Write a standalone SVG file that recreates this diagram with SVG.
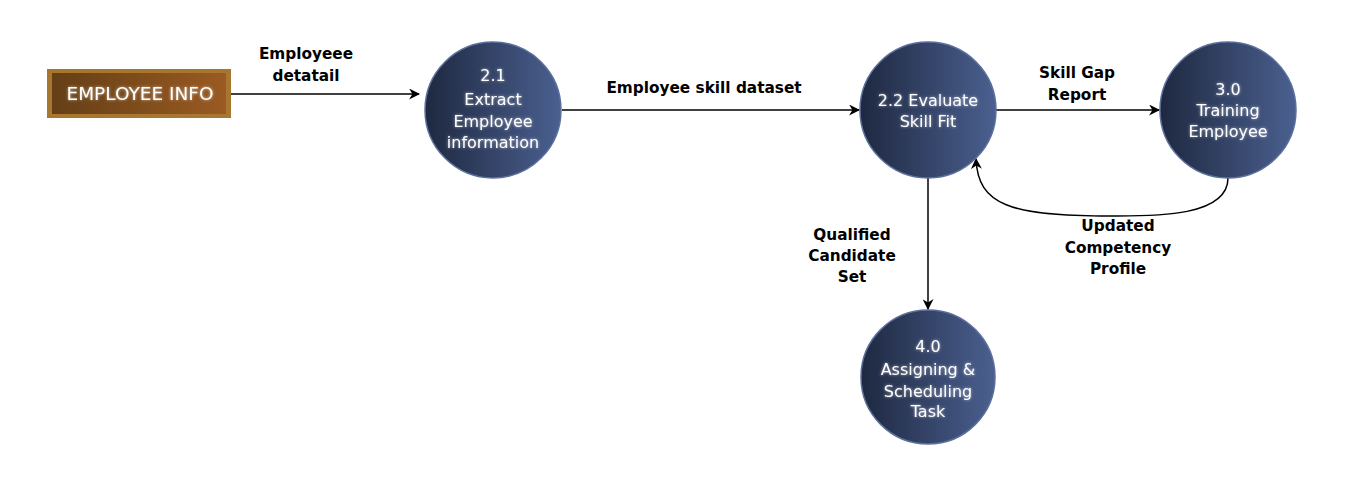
<svg xmlns="http://www.w3.org/2000/svg" width="1366" height="484" viewBox="0 0 1366 484">
<style>
.nt{font-family:"Comic Sans MS","DejaVu Sans",sans-serif;font-size:16px;fill:#ffffff;text-anchor:middle}
.lb{font-family:"Comic Sans MS","DejaVu Sans",sans-serif;font-size:15.3px;font-weight:bold;fill:#000000;text-anchor:middle}
.circ{fill:url(#cg);stroke:#5b6f9c;stroke-width:1.5}
.edge{fill:none;stroke:#000000;stroke-width:1.5;marker-end:url(#arr)}
</style>
<defs>
<linearGradient id="cg" x1="0" y1="0" x2="1" y2="0">
<stop offset="0" stop-color="#1e2840"/>
<stop offset="1" stop-color="#4b6090"/>
</linearGradient>
<linearGradient id="bg" x1="0" y1="0" x2="1" y2="0">
<stop offset="0" stop-color="#643f16"/>
<stop offset="1" stop-color="#9a5a22"/>
</linearGradient>
<filter id="glow" x="-20%" y="-20%" width="140%" height="140%">
<feGaussianBlur in="SourceAlpha" stdDeviation="1.5" result="b"/>
<feFlood flood-color="#ffffff" flood-opacity="0.6"/>
<feComposite in2="b" operator="in" result="g"/>
<feMerge><feMergeNode in="g"/><feMergeNode in="SourceGraphic"/></feMerge>
</filter>
<marker id="arr" viewBox="0 0 10 10" refX="9" refY="5" markerWidth="11" markerHeight="11" markerUnits="userSpaceOnUse" orient="auto">
<path d="M0,0 L10,5 L0,10 L3,5 z" fill="#000000"/>
</marker>
</defs>
<rect width="1366" height="484" fill="#ffffff"/>
<g id="connectors">
<path class="edge" d="M231,94 L419,94"/>
<path class="edge" d="M562,110 L859,110"/>
<path class="edge" d="M996,110 L1159,110"/>
<path class="edge" d="M928,178 L928,309"/>
<path class="edge" d="M1228,178 C1228,218 1150,216 1110,216 C1010,216 978,205 976,159"/>
</g>
<g id="labels">
<text class="lb" x="306" y="59">Employeee</text>
<text class="lb" x="306" y="81">detatail</text>
<text class="lb" x="704" y="93">Employee skill dataset</text>
<text class="lb" x="1077" y="78">Skill Gap</text>
<text class="lb" x="1077" y="100">Report</text>
<text class="lb" x="1118" y="231">Updated</text>
<text class="lb" x="1118" y="253">Competency</text>
<text class="lb" x="1118" y="274">Profile</text>
<text class="lb" x="852" y="240">Qualified</text>
<text class="lb" x="852" y="261">Candidate</text>
<text class="lb" x="852" y="282">Set</text>
</g>
<g id="employee-info">
<rect x="47" y="69" width="184" height="49" fill="#a7762f"/>
<rect x="52" y="73" width="174" height="41" fill="url(#bg)"/>
<text class="nt" x="140" y="100" style="font-size:18.5px" filter="url(#glow)">EMPLOYEE INFO</text>
</g>
<g id="p21">
<circle class="circ" cx="493" cy="110" r="68"/>
<text class="nt" x="493" y="81" filter="url(#glow)">2.1</text>
<text class="nt" x="493" y="105" filter="url(#glow)">Extract</text>
<text class="nt" x="493" y="127" filter="url(#glow)">Employee</text>
<text class="nt" x="493" y="148" filter="url(#glow)">information</text>
</g>
<g id="p22">
<circle class="circ" cx="928" cy="110" r="68"/>
<text class="nt" x="928" y="106" filter="url(#glow)">2.2 Evaluate</text>
<text class="nt" x="928" y="127" filter="url(#glow)">Skill Fit</text>
</g>
<g id="p30">
<circle class="circ" cx="1228" cy="110" r="68"/>
<text class="nt" x="1228" y="95" filter="url(#glow)">3.0</text>
<text class="nt" x="1228" y="116" filter="url(#glow)">Training</text>
<text class="nt" x="1228" y="137" filter="url(#glow)">Employee</text>
</g>
<g id="p40">
<circle class="circ" cx="928" cy="377" r="67"/>
<text class="nt" x="928" y="352" filter="url(#glow)">4.0</text>
<text class="nt" x="928" y="375" filter="url(#glow)">Assigning &amp;</text>
<text class="nt" x="928" y="397" filter="url(#glow)">Scheduling</text>
<text class="nt" x="928" y="417" filter="url(#glow)">Task</text>
</g>
</svg>
